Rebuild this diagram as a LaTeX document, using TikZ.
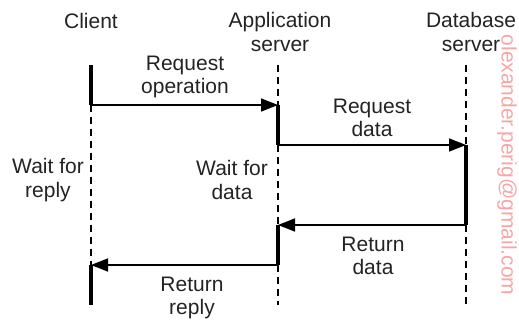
\documentclass[tikz,border=0pt]{standalone}
\usepackage{xcolor}
\usepackage{fontspec}
\setmainfont{Liberation Sans}
\usepackage{tikz}
\usetikzlibrary{arrows.meta}
\definecolor{markpink}{RGB}{250,165,165}
\definecolor{inkgray}{RGB}{35,35,35}
\tikzset{
	lbl/.style={inner sep=0pt, align=center, text=inkgray, font=\fontsize{21}{23.5}\selectfont},
	life/.style={line width=1.1pt, dash pattern=on 7pt off 5pt},
	busy/.style={line width=4.5pt},
	msg/.style={line width=1.6pt, -{Triangle[length=17pt,width=13pt]}},
}
\begin{document}
\begin{tikzpicture}[x=1pt,y=-1pt]
				\useasboundingbox (0,0) rectangle (519,320);
				\node[lbl] (cl) at (91,21) {Client};
				\node[lbl] (ap) at (280,32) {Application\\server};
				\node[lbl] (db) at (471,32) {Database\\server};
				\coordinate (c0) at (91,65);
				\coordinate (c1) at (91,105);
				\coordinate (c2) at (91,265);
				\coordinate (c3) at (91,305);
				\coordinate (a0) at (278,65);
				\coordinate (a1) at (278,105);
				\coordinate (a2) at (278,145);
				\coordinate (a3) at (278,225);
				\coordinate (a4) at (278,265);
				\coordinate (a5) at (278,305);
				\coordinate (d0) at (466,65);
				\coordinate (d1) at (466,145);
				\coordinate (d2) at (466,225);
				\coordinate (d3) at (466,305);
				\draw[life] (c1) to (c2);
				\draw[life] (a0) to (a1);
				\draw[life] (a2) to (a3);
				\draw[life] (a4) to (a5);
				\draw[life] (d0) to (d1);
				\draw[life] (d2) to (d3);
				\draw[busy] (c0) to (c1);
				\draw[busy] (c2) to (c3);
				\draw[busy] (a1) to (a2);
				\draw[busy] (a3) to (a4);
				\draw[busy] (d1) to (d2);
				\draw[msg] (c1) to (a1);
				\draw[msg] (a2) to (d1);
				\draw[msg] (d2) to (a3);
				\draw[msg] (a4) to (c2);
				\node[lbl] (rqop) at (185,77) {Request\\operation};
				\node[lbl] (rqdt) at (372,118) {Request\\data};
				\node[lbl] (wtrp) at (48,180) {Wait for\\reply};
				\node[lbl] (wtdt) at (232,180) {Wait for\\data};
				\node[lbl] (rtdt) at (373,256) {Return\\data};
				\node[lbl] (rtrp) at (192,298) {Return\\reply};
				\node[lbl, rotate=-90, text=markpink] (mark) at (507,165) {olexander.perig@gmail.com};
			\end{tikzpicture}
\end{document}
